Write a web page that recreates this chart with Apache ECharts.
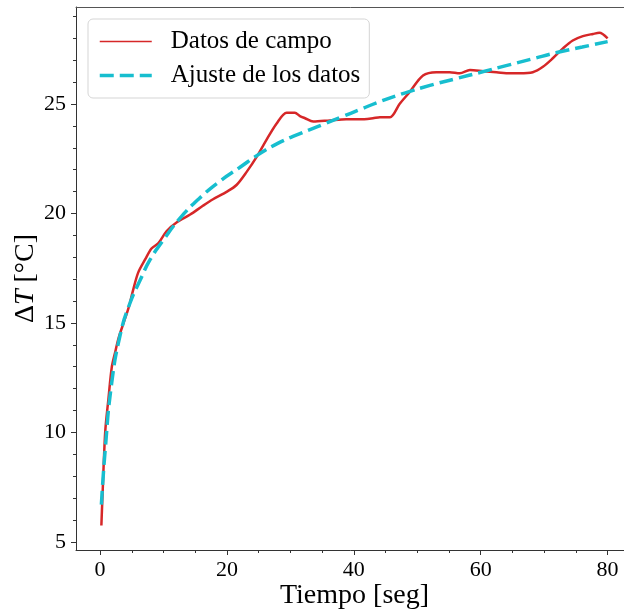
<!DOCTYPE html>
<html>
<head>
<meta charset="utf-8">
<script src="https://cdn.jsdelivr.net/npm/echarts@6/dist/echarts.min.js"></script>
<style>
  html, body { margin: 0; padding: 0; background: #fff; }
  #main { width: 624px; height: 613px; }
</style>
</head>
<body>
<div id="main"></div>
<script>
// datos de campo
const redTime = [0.2, 0.35, 0.8, 1.3, 1.85, 2.4, 2.9, 3.7, 4.5, 5.2, 6.0, 7.1, 8.1, 9.2, 10.5, 12.1, 14.2, 16.2, 17.8,
  20.0, 21.5, 23.1, 24.7, 26.2, 27.8, 29.4, 30.7, 31.5, 32.3, 33.6, 36.2, 38.8, 40.9, 43.0, 44.1, 45.7, 47.2,
  48.8, 50.9, 53.0, 55.1, 56.7, 58.3, 60.4, 62.5, 64.6, 66.1, 68.2, 69.8, 71.4, 73.0, 74.5, 76.1, 77.7, 78.7, 80.0];
const redTemp = [5.75, 6.9, 10.0, 11.5, 13.0, 13.7, 14.3, 15.0, 15.7, 16.5, 17.3, 17.9, 18.4, 18.65, 19.2, 19.6, 19.95, 20.35, 20.65,
  21.0, 21.3, 21.9, 22.6, 23.35, 24.1, 24.6, 24.6, 24.45, 24.35, 24.2, 24.25, 24.3, 24.3, 24.35, 24.4, 24.4, 25.0,
  25.55, 26.3, 26.45, 26.45, 26.4, 26.55, 26.5, 26.45, 26.4, 26.4, 26.45, 26.7, 27.1, 27.55, 27.9, 28.1, 28.2, 28.25, 28.0];

// ajuste
const fitTime = [0.2, 0.8, 1.8, 3.2, 4.7, 6.3, 7.9, 10, 12.5, 15.5, 19, 22, 25, 28, 31.5, 35, 38, 41, 44, 48, 52, 56, 60, 64, 68, 72, 76, 80];
const fitTemp = [6.7, 9.2, 12.2, 14.5, 15.9, 16.95, 17.9, 18.8, 19.75, 20.65, 21.5, 22.1, 22.7, 23.2, 23.65, 24.05, 24.4, 24.75,
  25.1, 25.5, 25.85, 26.15, 26.45, 26.75, 27.05, 27.35, 27.6, 27.85];

const xTicks = [0, 20, 40, 60, 80];
const xMinor = [5, 10, 15, 25, 30, 35, 45, 50, 55, 65, 70, 75];
const yTicks = [5, 10, 15, 20, 25];
const yMinor = [6, 7, 8, 9, 11, 12, 13, 14, 16, 17, 18, 19, 21, 22, 23, 24, 26, 27, 28, 29];

const fuente = 'Liberation Serif';
const chart = echarts.init(document.getElementById('main'));

const xMin = -3.8, xMax = 84;
const yMin = 4.63, yMax = 29.43;

const option = {
  animation: false,
  grid: {
    left: 76, top: 7, width: 557, height: 543,
    outerBoundsMode: 'none', containLabel: false
  },
  legend: {
    orient: 'vertical',
    left: 88, top: 19,
    padding: [10, 9, 10, 10],
    itemWidth: 52, itemHeight: 14, itemGap: 9,
    borderColor: '#d5d5d5', borderWidth: 1, borderRadius: 5,
    backgroundColor: 'rgba(255,255,255,0.8)',
    itemStyle: { color: 'rgba(0,0,0,0)', borderWidth: 0, opacity: 0 },
    textStyle: { fontFamily: fuente, fontSize: 25, color: '#000', padding: [0, 0, 0, 14] },
    data: [
      { name: 'Datos de campo', lineStyle: { width: 1.7 } },
      { name: 'Ajuste de los datos', lineStyle: { width: 3.5, type: [14, 6] } }
    ]
  },
  xAxis: [{
    type: 'value', min: xMin, max: xMax,
    name: 'Tiempo [seg]', nameLocation: 'middle', nameGap: 32, nameMoveOverlap: false,
    nameTextStyle: { fontFamily: fuente, fontSize: 28, color: '#000' },
    axisLine: { onZero: false, lineStyle: { color: '#333', width: 1 } },
    axisTick: { show: true, length: 5, customValues: xTicks, lineStyle: { color: '#333' } },
    axisLabel: { customValues: xTicks, fontFamily: fuente, fontSize: 22, color: '#000', margin: 9 },
    splitLine: { show: false }
  }, {
    type: 'value', min: xMin, max: xMax, position: 'bottom',
    axisLine: { show: false, onZero: false },
    axisTick: { show: true, length: 3, customValues: xMinor, lineStyle: { color: '#333' } },
    axisLabel: { show: false },
    splitLine: { show: false }
  }, {
    // borde superior
    type: 'value', min: xMin, max: xMax, position: 'top',
    axisLine: { show: true, onZero: false, lineStyle: { color: '#555', width: 1 } },
    axisTick: { show: false },
    axisLabel: { show: false },
    splitLine: { show: false }
  }],
  yAxis: [{
    type: 'value', min: yMin, max: yMax, position: 'left',
    name: '{d|Δ}{t|T} [°C]', nameLocation: 'middle', nameGap: 36, nameMoveOverlap: false,
    nameTextStyle: {
      fontFamily: fuente, fontSize: 28, color: '#000',
      rich: {
        d: { fontFamily: fuente, fontSize: 28, color: '#000' },
        t: { fontFamily: fuente, fontSize: 28, fontStyle: 'italic', color: '#000' }
      }
    },
    axisLine: { show: true, onZero: false, lineStyle: { color: '#333', width: 1 } },
    axisTick: { show: true, length: 5, customValues: yTicks, lineStyle: { color: '#333' } },
    axisLabel: { customValues: yTicks, fontFamily: fuente, fontSize: 22, color: '#000', margin: 10 },
    splitLine: { show: false }
  }, {
    type: 'value', min: yMin, max: yMax, position: 'left',
    axisLine: { show: false, onZero: false },
    axisTick: { show: true, length: 3, customValues: yMinor, lineStyle: { color: '#333' } },
    axisLabel: { show: false },
    splitLine: { show: false }
  }],
  series: [{
    name: 'Datos de campo',
    type: 'line',
    showSymbol: false, symbol: 'none',
    smooth: 0.3,
    data: redTime.map((t, i) => [t, redTemp[i]]),
    lineStyle: { color: '#d62728', width: 2.5 },
    itemStyle: { color: '#d62728' },
    z: 2
  }, {
    name: 'Ajuste de los datos',
    type: 'line',
    showSymbol: false, symbol: 'none',
    smooth: true,
    data: fitTime.map((t, i) => [t, fitTemp[i]]),
    lineStyle: { color: '#17becf', width: 3.5, type: [14, 6] },
    itemStyle: { color: '#17becf' },
    z: 3
  }]
};

chart.setOption(option);
</script>
</body>
</html>
